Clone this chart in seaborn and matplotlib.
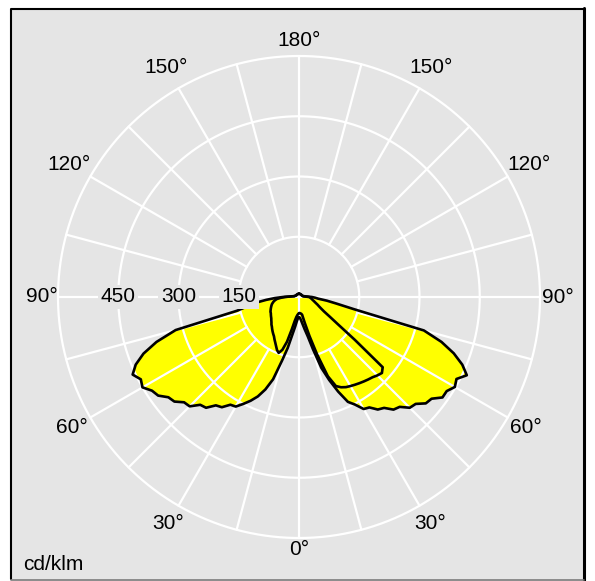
import numpy as np
import pandas as pd
import seaborn as sns
import matplotlib
matplotlib.use("Agg")
import matplotlib.pyplot as plt
from matplotlib.patches import Rectangle
from matplotlib.lines import Line2D

# gamma angles (deg) from nadir
gamma = [0, 2.5, 5, 7.5, 10, 12.5, 15, 17.5, 20, 22.5, 25, 27.5, 30, 32.5, 35, 37.5,
         40, 42.5, 45, 47.5, 50, 52.5, 55, 57.5, 60, 62.5, 65, 67.5, 70, 72.5, 75,
         77.5, 80, 82.5, 85, 87.5, 90, 100, 120, 140, 160, 180]

# wide plane, left half / right half (cd/klm)
wide_left = [50, 52, 60, 75, 95, 130, 165, 215, 245, 268, 285, 300, 315, 318, 335, 340,
             360, 364, 385, 388, 405, 410, 428, 434, 450, 444, 457, 440, 412, 372, 318,
             158, 128, 108, 82, 60, 40, 12, 8, 8, 8, 8]
wide_right = [50, 52, 58, 68, 82, 100, 135, 185, 220, 255, 288, 302, 322, 326, 342, 348,
              366, 371, 390, 394, 412, 416, 436, 436, 448, 442, 461, 440, 410, 372, 322,
              140, 95, 70, 48, 40, 32, 12, 8, 8, 8, 8]

# narrow plane, left half / right half (cd/klm)
narrow_left = [40, 42, 45, 50, 60, 82, 115, 138, 148, 143, 135, 128, 122, 116, 112, 108,
               104, 100, 97, 93, 90, 87, 85, 83, 81, 80, 78, 76, 74, 72, 70,
               67, 64, 60, 55, 45, 35, 12, 8, 8, 8, 8]
narrow_right = [40, 40, 41, 42, 45, 65, 100, 150, 210, 240, 248, 253, 256, 259, 262, 265,
                268, 271, 276, 280, 272, 175, 118, 90, 72, 62, 55, 50, 45, 41, 38,
                35, 33, 31, 29, 27, 25, 10, 8, 8, 8, 8]

ring_values = [150, 300, 450]
angle_ticks = [0, 30, 60, 90, 120, 150, 180, -30, -60, -90, -120, -150]
angle_labels = ["0°", "30°", "60°", "90°", "120°", "150°", "180°",
                "30°", "60°", "90°", "120°", "150°"]
label_r = [628, 652, 652, 645, 660, 660, 638, 652, 652, 640, 660, 660]


def plane(name, left, right):
    g = np.array(gamma)
    th = np.concatenate([-g[::-1], g]) * np.pi / 180
    r = np.concatenate([np.array(left)[::-1], right])
    return pd.DataFrame({"theta": th, "r": r, "plane": name})


df = pd.concat([plane("wide", wide_left, wide_right),
                plane("narrow", narrow_left, narrow_right)], ignore_index=True)

sns.set_style("white")
plt.rcParams["font.family"] = ["Liberation Sans", "DejaVu Sans"]
plt.rcParams["text.color"] = "black"
fs = 15

fig = plt.figure(figsize=(5.95, 5.81), dpi=100)
W, H = 595, 581
gray = "#e5e5e5"
fig.patches.append(Rectangle((11 / W, 1 - 579 / H), 573 / W, 571 / H, zorder=-5,
                             transform=fig.transFigure, facecolor=gray, edgecolor="none"))
fig.lines.append(Line2D([11 / W, 11 / W, 584 / W], [1 - 579 / H, 1 - 8.5 / H, 1 - 8.5 / H],
                        transform=fig.transFigure, color="black", lw=1.5))
fig.lines.append(Line2D([584 / W, 584 / W], [1 - 581 / H, 1 - 8 / H],
                        transform=fig.transFigure, color="black", lw=2.2))
fig.lines.append(Line2D([11 / W, 584 / W], [1 - 579.5 / H, 1 - 579.5 / H],
                        transform=fig.transFigure, color="#777777", lw=1.2))

cx, cy, R = 299, 297, 241
ax = fig.add_axes([(cx - R) / W, (H - cy - R) / H, 2 * R / W, 2 * R / H], projection="polar")
ax.set_theta_zero_location("S")
ax.set_theta_direction(1)
ax.set_ylim(0, 600)
ax.set_axis_off()

# yellow fill
for name, sub in df.groupby("plane"):
    ax.fill(sub["theta"], sub["r"], color="#ffff00", lw=0, zorder=1)

# white grid
full = np.linspace(0, 2 * np.pi, 400)
for rr in ring_values + [600]:
    ax.plot(full, np.full_like(full, rr), color="white", lw=1.6, zorder=2, clip_on=False)
for a in range(0, 360, 15):
    r0 = 0 if a % 90 == 0 else 150
    ax.plot([np.radians(a)] * 2, [r0, 600], color="white", lw=1.6, zorder=2, clip_on=False)

# outlines
sns.lineplot(data=df, x="theta", y="r", units="plane", estimator=None, sort=False,
             color="black", lw=1.9, ax=ax, zorder=3, legend=False)
ax.set_axis_off()
ax.set_ylim(0, 600)

for t, lab, rl in zip(angle_ticks, angle_labels, label_r):
    ax.text(np.radians(t), rl, lab, ha="center", va="center", fontsize=fs,
            color="black", clip_on=False)
for v in ring_values:
    ax.text(-np.pi / 2, v, str(v), ha="center", va="center", fontsize=fs, zorder=5,
            color="black",
            bbox=dict(boxstyle="square,pad=0.12", facecolor=gray, edgecolor="none"))

fig.text(23 / W, 1 - 570.5 / H, "cd/klm", ha="left", va="baseline", fontsize=fs,
         color="black")

fig.savefig("out.png", dpi=100, facecolor="white")
